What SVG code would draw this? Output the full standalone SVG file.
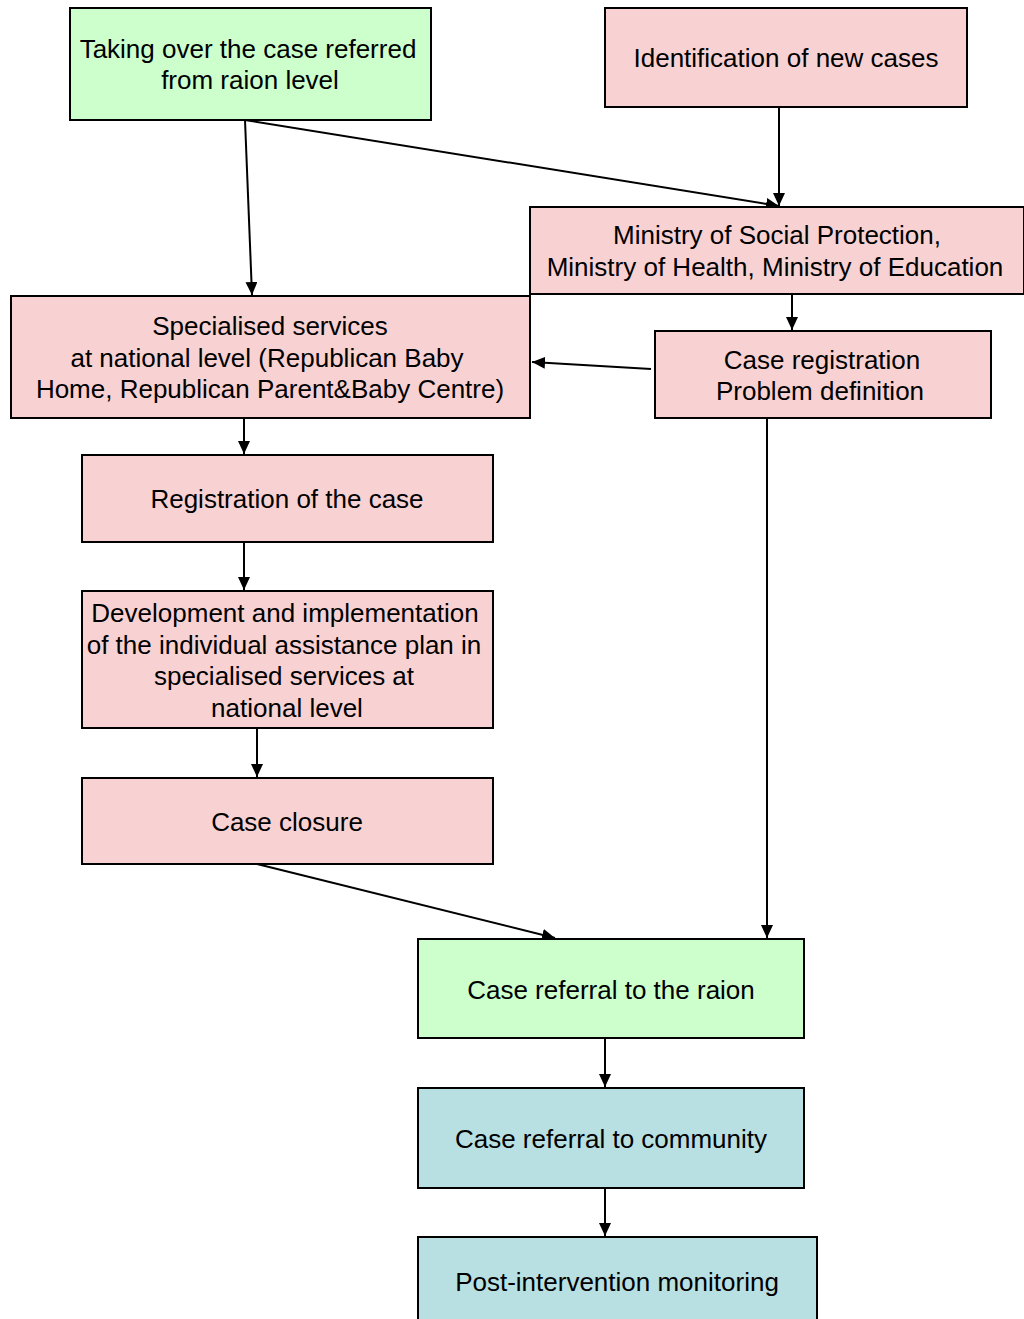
<svg xmlns="http://www.w3.org/2000/svg" width="1024" height="1319" viewBox="0 0 1024 1319">
  <defs>
    <marker id="arrow" viewBox="0 0 13 12" refX="13" refY="6" markerWidth="13" markerHeight="12" markerUnits="userSpaceOnUse" orient="auto">
      <path d="M0,0 L13,6 L0,12 Z" fill="#000"/>
    </marker>
    <style>
      rect { stroke: #000; stroke-width: 2; }
      .pink { fill: #F8D2D3; }
      .green { fill: #CCFFCC; }
      .blue { fill: #B8DFE1; }
      text { font-family: "Liberation Sans", Arial, sans-serif; font-size: 26px; fill: #000; text-anchor: middle; }
      #connectors line { stroke: #000; stroke-width: 2; marker-end: url(#arrow); }
    </style>
  </defs>
  <rect x="0" y="0" width="1024" height="1319" fill="#fff" style="stroke:none"/>

  <g id="connectors">
    <line x1="245" y1="120" x2="252" y2="295"/>
    <line x1="245" y1="120" x2="779" y2="206"/>
    <line x1="779" y1="107" x2="779" y2="206"/>
    <line x1="792" y1="294" x2="792" y2="330"/>
    <line x1="651" y1="369" x2="532" y2="362"/>
    <line x1="244" y1="418" x2="244" y2="454"/>
    <line x1="244" y1="542" x2="244" y2="590"/>
    <line x1="257" y1="728" x2="257" y2="777"/>
    <line x1="257" y1="864" x2="555" y2="938"/>
    <line x1="767" y1="418" x2="767" y2="938"/>
    <line x1="605" y1="1038" x2="605" y2="1087"/>
    <line x1="605" y1="1188" x2="605" y2="1236"/>
  </g>

  <g id="n-takeover">
    <rect class="green" x="70" y="8" width="361" height="112"/>
    <text x="248" y="58">Taking over the case referred</text>
    <text x="250" y="89">from raion level</text>
  </g>
  <g id="n-identification">
    <rect class="pink" x="605" y="8" width="362" height="99"/>
    <text x="786" y="67">Identification of new cases</text>
  </g>
  <g id="n-ministries">
    <rect class="pink" x="530" y="207" width="494" height="87"/>
    <text x="777" y="244">Ministry of Social Protection,</text>
    <text x="775" y="276">Ministry of Health, Ministry of Education</text>
  </g>
  <g id="n-specialised">
    <rect class="pink" x="11" y="296" width="519" height="122"/>
    <text x="270" y="335">Specialised services</text>
    <text x="267" y="367">at national level (Republican Baby</text>
    <text x="270" y="398">Home, Republican Parent&amp;Baby Centre)</text>
  </g>
  <g id="n-case-registration">
    <rect class="pink" x="655" y="331" width="336" height="87"/>
    <text x="822" y="369">Case registration</text>
    <text x="820" y="400">Problem definition</text>
  </g>
  <g id="n-registration">
    <rect class="pink" x="82" y="455" width="411" height="87"/>
    <text x="287" y="508">Registration of the case</text>
  </g>
  <g id="n-development">
    <rect class="pink" x="82" y="591" width="411" height="137"/>
    <text x="285" y="622">Development and implementation</text>
    <text x="284" y="654">of the individual assistance plan in</text>
    <text x="284" y="685">specialised services at</text>
    <text x="287" y="717">national level</text>
  </g>
  <g id="n-closure">
    <rect class="pink" x="82" y="778" width="411" height="86"/>
    <text x="287" y="831">Case closure</text>
  </g>
  <g id="n-raion">
    <rect class="green" x="418" y="939" width="386" height="99"/>
    <text x="611" y="999">Case referral to the raion</text>
  </g>
  <g id="n-community">
    <rect class="blue" x="418" y="1088" width="386" height="100"/>
    <text x="611" y="1148">Case referral to community</text>
  </g>
  <g id="n-monitoring">
    <rect class="blue" x="418" y="1237" width="399" height="100"/>
    <text x="617" y="1291">Post-intervention monitoring</text>
  </g>
</svg>
